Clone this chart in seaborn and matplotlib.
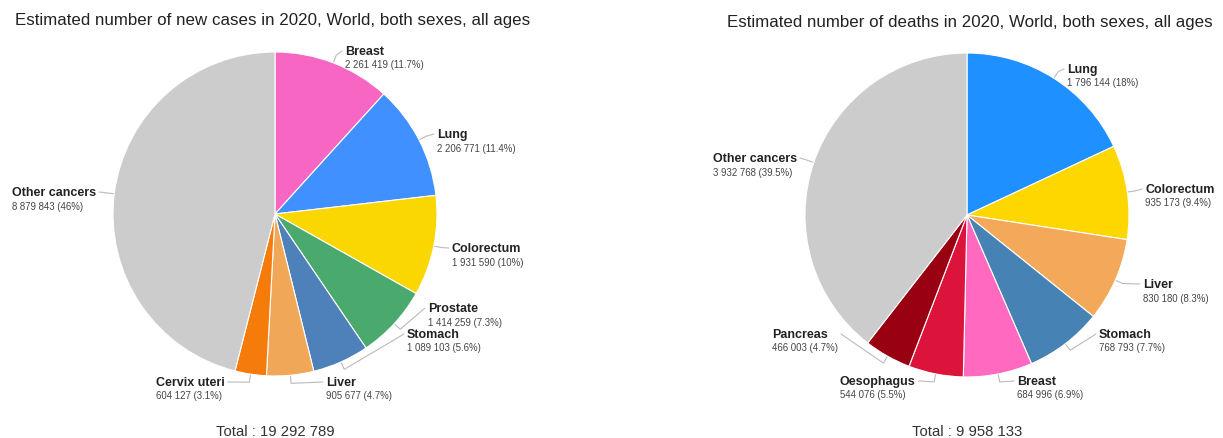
import numpy as np
import matplotlib
matplotlib.use("Agg")
import matplotlib.pyplot as plt
import seaborn as sns

# ---- data ----
cases_labels = ["Breast", "Lung", "Colorectum", "Prostate", "Stomach", "Liver", "Cervix uteri", "Other cancers"]
cases_values = [2261419, 2206771, 1931590, 1414259, 1089103, 905677, 604127, 8879843]
cases_colors = ["#F666C2", "#4091FF", "#FAD700", "#4AAA6E", "#4E80B9", "#F0A858", "#F57C0A", "#CCCCCC"]

deaths_labels = ["Lung", "Colorectum", "Liver", "Stomach", "Breast", "Oesophagus", "Pancreas", "Other cancers"]
deaths_values = [1796144, 935173, 830180, 768793, 684996, 544076, 466003, 3932768]
deaths_colors = ["#1E90FF", "#FFD700", "#F4A85A", "#4682B4", "#FF69C0", "#DC143C", "#990011", "#CCCCCC"]

cases_title = "Estimated number of new cases in 2020, World, both sexes, all ages"
deaths_title = "Estimated number of deaths in 2020, World, both sexes, all ages"

# label placement (image pixels: x of left edge, y of name centre)
cases_label_pos = [(345, 52), (437, 135), (452, 249), (428, 309), (407, 335), (326, 383), (156, 383), (12, 193)]
deaths_label_pos = [(1067, 70), (1145, 190), (1143, 285), (1099, 335), (1017, 382), (840, 382), (772, 335), (713, 159)]

W, H = 1223, 439

sns.set_style("white")
plt.rcParams["font.family"] = ["Liberation Sans", "DejaVu Sans"]

fig = plt.figure(figsize=(W / 100, H / 100), dpi=100)
ax = fig.add_axes([0, 0, 1, 1])


def fmt_num(v):
    return f"{v:,}".replace(",", " ")


def fmt_pct(p):
    s = f"{p:.1f}"
    if s.endswith(".0"):
        s = s[:-2]
    return s + "%"


def draw_pie(values, labels, colors, cx, cy, r, label_pos, title, title_xy):
    values = np.array(values, dtype=float)
    total = values.sum()
    ax.pie(values, colors=colors, startangle=90, counterclock=False,
           center=(cx, H - cy), radius=r,
           wedgeprops=dict(edgecolor="white", linewidth=0.8))
    fracs = values / total
    cum = np.cumsum(fracs) - fracs / 2
    texts = []
    for lab, v, f, (lx, ly) in zip(labels, values, fracs, label_pos):
        t1 = ax.text(lx, H - ly, lab, fontsize=9, fontweight="bold",
                     color="#222222", ha="left", va="center")
        t2 = ax.text(lx, H - ly - 13.5, f"{fmt_num(int(v))} ({fmt_pct(f * 100)})",
                     fontsize=6.9, color="#444444", ha="left", va="center")
        texts.append((t1, t2))
    ax.text(title_xy[0], H - title_xy[1], title, fontsize=12.2, color="#222222",
            ha="left", va="center")
    ax.text(cx, H - 432, f"Total : {fmt_num(int(total))}", fontsize=10.7,
            color="#333333", ha="center", va="center")
    return cum, texts


left = draw_pie(cases_values, cases_labels, cases_colors, 275, 215, 162,
                cases_label_pos, cases_title, (15, 20))
right = draw_pie(deaths_values, deaths_labels, deaths_colors, 967, 216, 162,
                 deaths_label_pos, deaths_title, (727, 22))

ax.set_xlim(0, W)
ax.set_ylim(0, H)
ax.set_aspect("auto")
ax.axis("off")

# leader lines, anchored on the drawn text extents
fig.canvas.draw()
renderer = fig.canvas.get_renderer()
for (cum, texts), (cx, cy) in [(left, (275, 215)), (right, (967, 216))]:
    cy = H - cy
    r = 162
    for frac_mid, (t1, t2) in zip(cum, texts):
        th = 2 * np.pi * frac_mid
        sx, sy = np.sin(th), np.cos(th)
        p0 = (cx + r * 0.99 * sx, cy + r * 0.99 * sy)
        p1 = (cx + r * 1.05 * sx, cy + r * 1.05 * sy)
        b1 = t1.get_window_extent(renderer)
        b2 = t2.get_window_extent(renderer)
        ymid = (b1.y0 + b1.y1) / 2
        if sx >= 0:
            p2 = (b1.x0 - 3, ymid)
        else:
            p2 = (max(b1.x1, b2.x1) + 3, ymid)
        ax.plot([p0[0], p1[0], p2[0]], [p0[1], p1[1], p2[1]],
                color="#BBBBBB", lw=0.8, zorder=0)

fig.savefig("out.png", dpi=100, facecolor="white")
